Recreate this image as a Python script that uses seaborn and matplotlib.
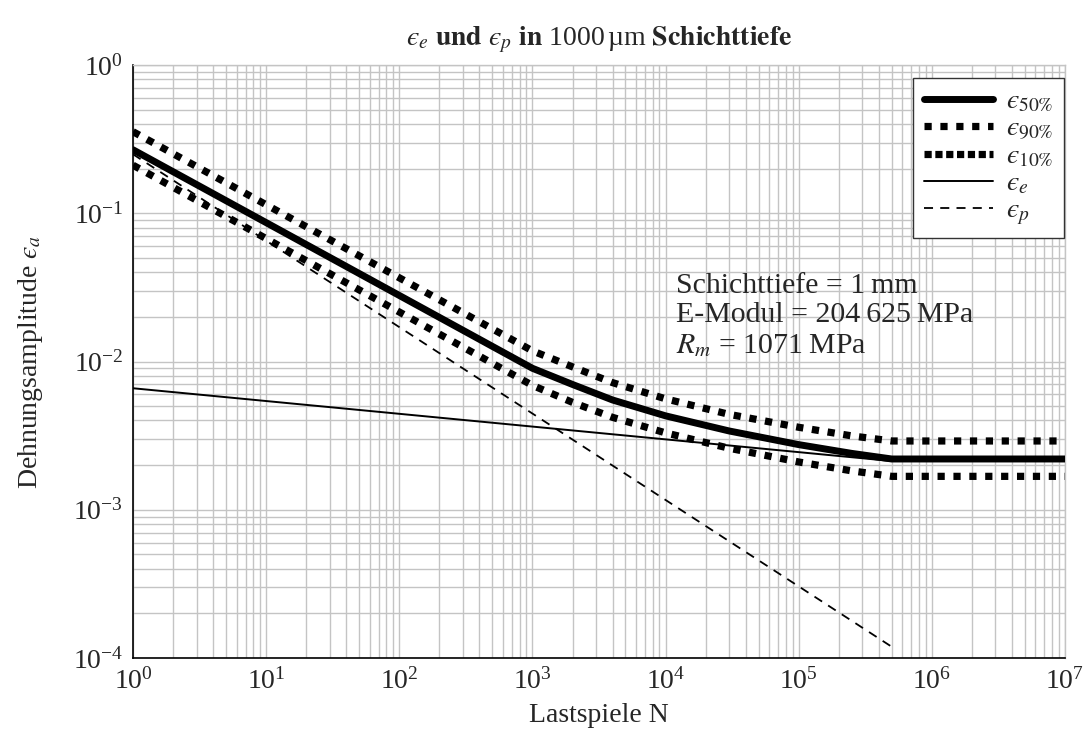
import numpy as np
import pandas as pd
import matplotlib
matplotlib.use("Agg")
import matplotlib.pyplot as plt
from matplotlib.lines import Line2D
from matplotlib.ticker import LogLocator, NullFormatter
import seaborn as sns

# ---- data ----
N_total = [1, 1e3, 2e3, 4e3, 1e4, 3e4, 1e5, 2.5e5, 5e5, 1e7]
eps_50 = [0.268, 0.0090, 0.0070, 0.0055, 0.0043, 0.0034, 0.00275, 0.0024, 0.0022, 0.0022]
eps_90 = [0.355, 0.0118, 0.0092, 0.0072, 0.0056, 0.0044, 0.0036, 0.00315, 0.00291, 0.00291]
eps_10 = [0.211, 0.0069, 0.0053, 0.0042, 0.0033, 0.0026, 0.0021, 0.00183, 0.00168, 0.00168]
N_parts = [1, 5e5]
eps_e = [0.0066, 0.00213]
eps_p = [0.25, 0.000119]

x_ticks = [1e0, 1e1, 1e2, 1e3, 1e4, 1e5, 1e6, 1e7]
y_ticks = [1e-4, 1e-3, 1e-2, 1e-1, 1e0]

sns.set_theme(style="white")
plt.rcParams["font.family"] = ["Liberation Serif", "DejaVu Serif"]
plt.rcParams["mathtext.fontset"] = "stix"
plt.rcParams["font.size"] = 20

FS = 20
EPS = "\u03f5"

fig = plt.figure(figsize=(10.91, 7.56), dpi=100)
ax = fig.add_axes([133 / 1091, 1 - 658 / 756, (1065 - 133) / 1091, (658 - 65) / 756])

df_tot = pd.DataFrame({"N": N_total, "e50": eps_50, "e90": eps_90, "e10": eps_10})
df_parts = pd.DataFrame({"N": N_parts, "ee": eps_e, "ep": eps_p})

dot = (0, (1, 1.2))
sns.lineplot(data=df_parts, x="N", y="ep", ax=ax, color="black", lw=1.3,
             linestyle=(0, (5, 4)), sort=False, estimator=None, zorder=3)
sns.lineplot(data=df_parts, x="N", y="ee", ax=ax, color="black", lw=1.4,
             sort=False, estimator=None, zorder=3)
sns.lineplot(data=df_tot, x="N", y="e90", ax=ax, color="black", lw=5.2,
             linestyle=dot, sort=False, estimator=None, zorder=4)
sns.lineplot(data=df_tot, x="N", y="e10", ax=ax, color="black", lw=5.2,
             linestyle=dot, sort=False, estimator=None, zorder=4)
sns.lineplot(data=df_tot, x="N", y="e50", ax=ax, color="black", lw=5.0,
             sort=False, estimator=None, zorder=5)

ax.set_xscale("log")
ax.set_yscale("log")
ax.set_xlim(1, 1e7)
ax.set_ylim(1e-4, 1)
ax.set_xticks(x_ticks)
ax.set_yticks(y_ticks)
ax.xaxis.set_minor_locator(LogLocator(base=10, subs=np.arange(2, 10), numticks=100))
ax.yaxis.set_minor_locator(LogLocator(base=10, subs=np.arange(2, 10), numticks=100))
ax.xaxis.set_minor_formatter(NullFormatter())
ax.yaxis.set_minor_formatter(NullFormatter())

gridc = "#c4c4c4"
ax.grid(True, which="major", color=gridc, lw=1.0)
ax.grid(True, which="minor", color=gridc, lw=1.0)
ax.set_axisbelow(True)
ax.tick_params(axis="both", which="major", direction="in", length=6, width=1,
               color="#555555", labelsize=FS, pad=7)
ax.tick_params(axis="both", which="minor", direction="in", length=3.5, width=1,
               color="#888888")
for s in ["left", "bottom"]:
    ax.spines[s].set_color("black")
    ax.spines[s].set_linewidth(1.2)
for s in ["top", "right"]:
    ax.spines[s].set_color(gridc)
    ax.spines[s].set_linewidth(1.0)

ax.set_xlabel("Lastspiele N", fontsize=FS, labelpad=6)
ax.set_ylabel("Dehnungsamplitude $" + EPS + "_a$", fontsize=FS, labelpad=20)
ax.set_title("$" + EPS + r"_e$ $\mathbf{und}$ $" + EPS + r"_p$ $\mathbf{in}$ 1000$\,$µm $\mathbf{Schichttiefe}$",
             fontsize=FS, pad=14)

txt = "Schichttiefe = 1\u2009mm\nE-Modul = 204\u2009625\u2009MPa\n$R_m$ = 1071\u2009MPa"
ax.text(0.583, 0.65, txt, transform=ax.transAxes, fontsize=21.5, va="top", ha="left",
        linespacing=1.18, zorder=6)

handles = [
    Line2D([], [], color="black", lw=5.0),
    Line2D([], [], color="black", lw=5.2, linestyle=(0, (1, 1.2))),
    Line2D([], [], color="black", lw=5.2, linestyle=(0, (1, 0.5))),
    Line2D([], [], color="black", lw=1.4),
    Line2D([], [], color="black", lw=1.3, linestyle=(0, (5, 4))),
]
labels = ["$" + EPS + r"_{50\%}$", "$" + EPS + r"_{90\%}$", "$" + EPS + r"_{10\%}$",
          "$" + EPS + "_e$", "$" + EPS + "_p$"]
leg = ax.legend(handles, labels, loc="upper right", bbox_to_anchor=(0.999, 0.978),
                borderaxespad=0, fontsize=FS, frameon=True, fancybox=False,
                edgecolor="#333333", framealpha=1, handlelength=2.5,
                labelspacing=0.06, borderpad=0.4, handletextpad=0.45)
leg.get_frame().set_linewidth(1.0)

fig.savefig("out.png", dpi=100)
